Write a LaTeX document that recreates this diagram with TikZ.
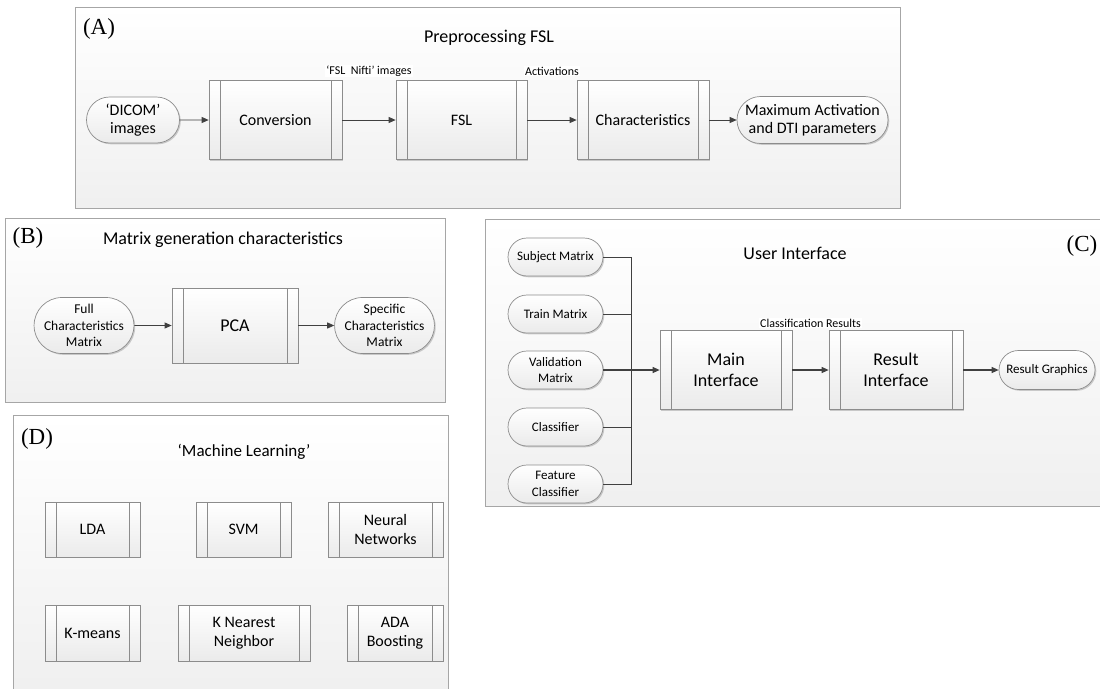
\documentclass[tikz,border=0pt]{standalone}
\usepackage{fontspec}
\setmainfont{Carlito}
\newfontfamily\serifpanel{Liberation Serif}
\usetikzlibrary{arrows.meta,shapes.misc,shadows,calc}
\newcommand\fs[2]{\fontsize{#1}{#2}\selectfont}
\begin{document}
\begin{tikzpicture}[x=1pt,y=-1pt,
  panel/.style={draw=black!35, line width=0.8pt, top color=white, bottom color=black!6},
  shad/.style={drop shadow={shadow xshift=1.3pt, shadow yshift=-1.3pt, fill=black, opacity=0.18}},
  proc/.style={rectangle, draw=black!45, line width=0.7pt, top color=white, bottom color=black!8,
    inner sep=0pt, align=center, shad,
    path picture={\draw[black!45, line width=0.7pt]
      ([xshift=11pt]path picture bounding box.north west) -- ([xshift=11pt]path picture bounding box.south west)
      ([xshift=-11pt]path picture bounding box.north east) -- ([xshift=-11pt]path picture bounding box.south east);}},
  term/.style={rounded rectangle, draw=black!45, line width=0.7pt, top color=white, bottom color=black!8,
    inner sep=0pt, align=center, shad},
  conn/.style={draw=black!75, line width=0.8pt},
  arr/.style={conn, -{Triangle[length=7pt,width=6pt]}},
  lbl/.style={fill=white, inner sep=1pt, font=\fs{12}{14}},
  pl/.style={font=\serifpanel\fs{23}{25}},
  ttl/.style={font=\fs{18}{20}}
]
\useasboundingbox (0,0) rectangle (1100,688);

% ---------- panels ----------
\path[panel] (75,7) rectangle (900,208);
\path[panel] (5,218) rectangle (445,402);
\path[panel] (485,219) rectangle (1103,506);
\path[panel] (13,415) rectangle (448,692);

% ---------- (A) ----------
\node[pl] (labA) at (99,29) {(A)};
\node[ttl] (titA) at (489,38) {Preprocessing FSL};
\node[term, minimum width=93pt, minimum height=46pt, font=\fs{16}{18}] (dicom) at (133,120) {‘DICOM’\\images};
\node[proc, minimum width=133pt, minimum height=79pt, font=\fs{16}{18}] (conv) at (275.5,120) {Conversion};
\node[proc, minimum width=131pt, minimum height=79pt, font=\fs{16}{18}] (fsl) at (461.5,120) {FSL};
\node[proc, minimum width=132pt, minimum height=79pt, font=\fs{16}{18}] (charA) at (643,120) {Characteristics};
\node[term, minimum width=151pt, minimum height=47pt, font=\fs{16}{18}] (maxA) at (812.5,120) {Maximum Activation\\and DTI parameters};
\draw[arr] (dicom) -- (conv);
\draw[arr] (conv) -- (fsl) node[lbl, midway, yshift=49pt] (lnifti) {‘FSL\ \ Nifti’ images};
\draw[arr] (fsl) -- (charA) node[lbl, midway, yshift=49pt] (lact) {Activations};
\draw[arr] (charA) -- (maxA);

% ---------- (B) ----------
\node[pl] (labB) at (28,238) {(B)};
\node[ttl] (titB) at (223,240) {Matrix generation characteristics};
\node[term, minimum width=93pt, minimum height=56pt, font=\fs{13.5}{16.7}] (fullB) at (84,325.5) {Full\\Characteristics\\Matrix};
\node[proc, minimum width=126pt, minimum height=75pt, font=\fs{18}{20}] (pca) at (235,325.5) {PCA};
\node[term, minimum width=91pt, minimum height=56pt, font=\fs{13.5}{16.7}] (specB) at (384.5,325.5) {Specific\\Characteristics\\Matrix};
\draw[arr] (fullB) -- (pca);
\draw[arr] (pca) -- (specB);

% ---------- (C) ----------
\node[pl] (labC) at (1082,246) {(C)};
\node[ttl] (titC) at (795,253) {User Interface};
\node[term, minimum width=95pt, minimum height=38pt, font=\fs{13}{16.7}] (subj) at (555.5,257) {Subject Matrix};
\node[term, minimum width=95pt, minimum height=38pt, font=\fs{13}{16.7}] (train) at (555.5,314) {Train Matrix};
\node[term, minimum width=95pt, minimum height=38pt, font=\fs{13}{16.7}] (valid) at (555.5,370) {Validation\\Matrix};
\node[term, minimum width=95pt, minimum height=38pt, font=\fs{13}{16.7}] (clsf) at (555.5,427) {Classifier};
\node[term, minimum width=95pt, minimum height=38pt, font=\fs{13}{16.7}] (feat) at (555.5,484) {Feature\\Classifier};
\node[proc, minimum width=132pt, minimum height=79pt, font=\fs{18}{20.5}] (mainI) at (726,370) {Main\\Interface};
\node[proc, minimum width=134pt, minimum height=79pt, font=\fs{18}{20.5}] (resI) at (896,370) {Result\\Interface};
\node[term, minimum width=96pt, minimum height=39pt, font=\fs{13}{16.7}] (resG) at (1047,370) {Result Graphics};
\coordinate (jx) at (631,0);
\draw[conn] (subj.east) -- (subj.east -| jx) -- (feat.east -| jx) -- (feat.east);
\draw[conn] (train.east) -- (train.east -| jx);
\draw[conn] (clsf.east) -- (clsf.east -| jx);
\draw[arr, line width=1.1pt] (valid.east) -- (mainI.west);
\draw[arr, line width=1.1pt] (mainI.east) -- (resI.west) node[lbl, midway, yshift=47pt] (lcls) {Classification Results};
\draw[arr, line width=1.1pt] (resI.east) -- (resG.west);

% ---------- (D) ----------
\node[pl] (labD) at (37,439) {(D)};
\node[font=\fs{17}{19}] (titD) at (244,452) {‘Machine Learning’};
\node[proc, minimum width=95pt, minimum height=55pt, font=\fs{16}{19}] (lda) at (92.5,529.5) {LDA};
\node[proc, minimum width=95pt, minimum height=55pt, font=\fs{16}{19}] (svm) at (243.5,529.5) {SVM};
\node[proc, minimum width=115pt, minimum height=55pt, font=\fs{16}{19}] (nn) at (385.5,529.5) {Neural\\Networks};
\node[proc, minimum width=95pt, minimum height=56pt, font=\fs{16}{19}] (km) at (92.5,633) {K-means};
\node[proc, minimum width=132pt, minimum height=56pt, font=\fs{16}{19}] (knn) at (244,633) {K Nearest\\Neighbor};
\node[proc, minimum width=96pt, minimum height=56pt, font=\fs{16}{19}] (ada) at (395,633) {ADA\\Boosting};
\end{tikzpicture}
\end{document}
